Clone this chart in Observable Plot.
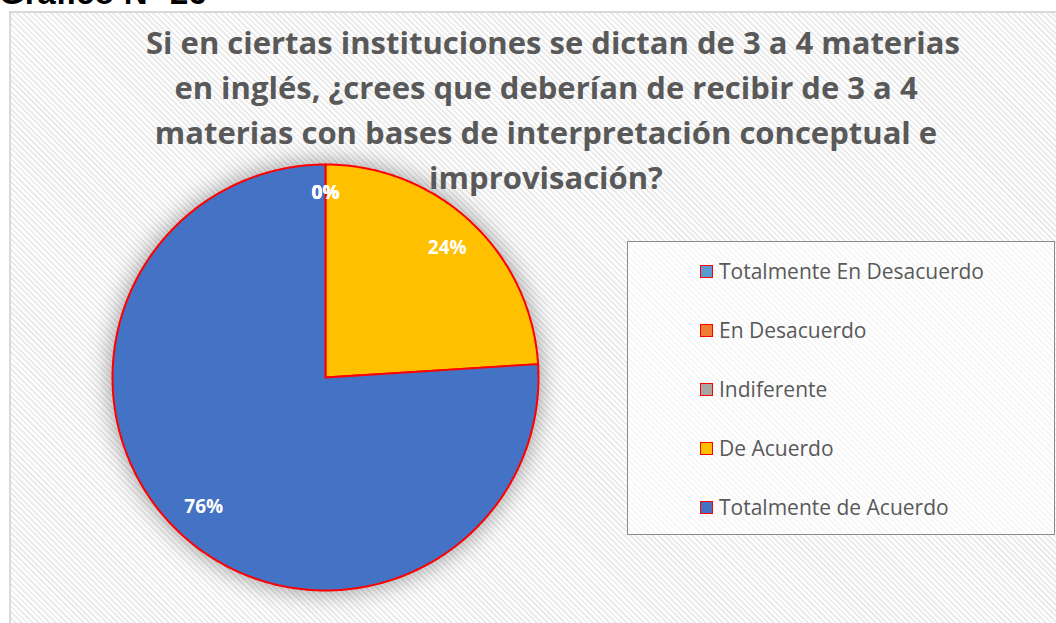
<!DOCTYPE html>
<html>
<head>
<meta charset="utf-8">
<script src="https://cdn.jsdelivr.net/npm/d3@7"></script>
<script src="https://cdn.jsdelivr.net/npm/@observablehq/plot@0.6"></script>
<style>
  html, body { margin: 0; padding: 0; background: #fff; }
  #root { position: relative; width: 1056px; height: 623px; overflow: hidden; background: #fff; }
  #heading { position: absolute; left: -1px; top: -24px; font-family: "Liberation Sans", Arial, sans-serif; font-weight: bold; font-size: 33px; line-height: 1; color: #000; white-space: nowrap; }
  #frame { position: absolute; left: 9px; top: 11px; width: 1060px; height: 630px; border: 2px solid #d9d9d9; box-sizing: border-box;
    background: repeating-linear-gradient(45deg, #ffffff 0px, #ffffff 2px, #ececec 2px, #ececec 4px); }
  #title { position: absolute; left: 146px; width: 800px; top: 20px; text-align: center; font-family: "Open Sans", sans-serif; font-weight: bold; font-size: 31px; line-height: 45px; color: #595959; }
  #title div { white-space: nowrap; }
  #chart { position: absolute; left: 0; top: 0; }
  #legend { position: absolute; left: 627px; top: 241px; width: 428px; height: 294px; border: 1.5px solid #8c8c8c; box-sizing: border-box; background: rgba(255,255,255,0.6); }
  .item { position: absolute; left: 72px; height: 24px; display: flex; align-items: center; font-family: "Open Sans", sans-serif; font-size: 21px; color: #595959; white-space: nowrap; }
  .sw { width: 11px; height: 11px; border: 1.5px solid #ff0000; margin-right: 6px; }
</style>
</head>
<body>
<div id="root">
  <div id="heading">Gráfico N° 26</div>
  <div id="frame"></div>
  <div id="chart"></div>
  <div id="title"></div>
  <div id="legend"></div>
</div>
<script>
// ---- data ----
const categories = ["Totalmente En Desacuerdo", "En Desacuerdo", "Indiferente", "De Acuerdo", "Totalmente de Acuerdo"];
const values = [0, 0, 0, 24, 76];
const colors = ["#5B9BD5", "#ED7D31", "#A5A5A5", "#FFC000", "#4472C4"];
const labels = ["0%", "0%", "0%", "24%", "76%"];
const titleLines = [
  "Si en ciertas instituciones se dictan de 3 a 4 materias",
  "en inglés, ¿crees que deberían de recibir de 3 a 4",
  "materias con bases de interpretación conceptual e",
  "improvisación?"
];

// ---- title ----
const titleEl = document.getElementById("title");
titleLines.forEach(t => { const d = document.createElement("div"); d.textContent = t; titleEl.appendChild(d); });

// ---- pie geometry (in unit data space) ----
const arcs = d3.pie().sort(null).value(d => d.value)(categories.map((c, i) => ({category: c, value: values[i]})));
const polyPts = [];
arcs.forEach(a => {
  const n = Math.max(2, Math.ceil((a.endAngle - a.startAngle) / 0.01));
  polyPts.push({category: a.data.category, x: 0, y: 0});
  for (let k = 0; k <= n; k++) {
    const t = a.startAngle + (a.endAngle - a.startAngle) * k / n;
    polyPts.push({category: a.data.category, x: Math.sin(t), y: Math.cos(t)});
  }
  polyPts.push({category: a.data.category, x: 0, y: 0});
});
const labelPts = arcs.map((a, i) => {
  const m = (a.startAngle + a.endAngle) / 2;
  const r = values[i] === 0 ? 0.865 : 0.835;
  return {label: labels[i], x: r * Math.sin(m), y: r * Math.cos(m)};
});

const cx = 325, cy = 377, R = 213;
const plot = Plot.plot({
  width: 1056, height: 623,
  marginTop: 0, marginRight: 0, marginBottom: 0, marginLeft: 0,
  style: {background: "transparent", overflow: "visible"},
  x: {domain: [-1, 1], range: [cx - R, cx + R], axis: null},
  y: {domain: [-1, 1], range: [cy + R, cy - R], axis: null},
  color: {domain: categories, range: colors},
  marks: [
    Plot.line(polyPts.filter(p => values[categories.indexOf(p.category)] > 0), {
      x: "x", y: "y", z: "category", fill: "category",
      stroke: "#ff0000", strokeWidth: 2, strokeLinejoin: "round", curve: "linear"
    }),
    Plot.text(labelPts, {
      x: "x", y: "y", text: "label", fill: "#ffffff",
      fontWeight: "bold", fontSize: 19, fontFamily: "Open Sans"
    })
  ]
});
const lineG = plot.querySelector('g[aria-label="line"]');
if (lineG) lineG.style.filter = "drop-shadow(0px 0px 12px rgba(0,0,0,0.4))";
document.getElementById("chart").appendChild(plot);

// ---- legend ----
const legendEl = document.getElementById("legend");
const rowY = [270, 329, 388, 447, 506];
categories.forEach((c, i) => {
  const it = document.createElement("div");
  it.className = "item";
  it.style.top = (rowY[i] - 241 - 12) + "px";
  const sw = document.createElement("div");
  sw.className = "sw";
  sw.style.background = colors[i];
  const tx = document.createElement("span");
  tx.textContent = c;
  it.appendChild(sw); it.appendChild(tx);
  legendEl.appendChild(it);
});
</script>
</body>
</html>
